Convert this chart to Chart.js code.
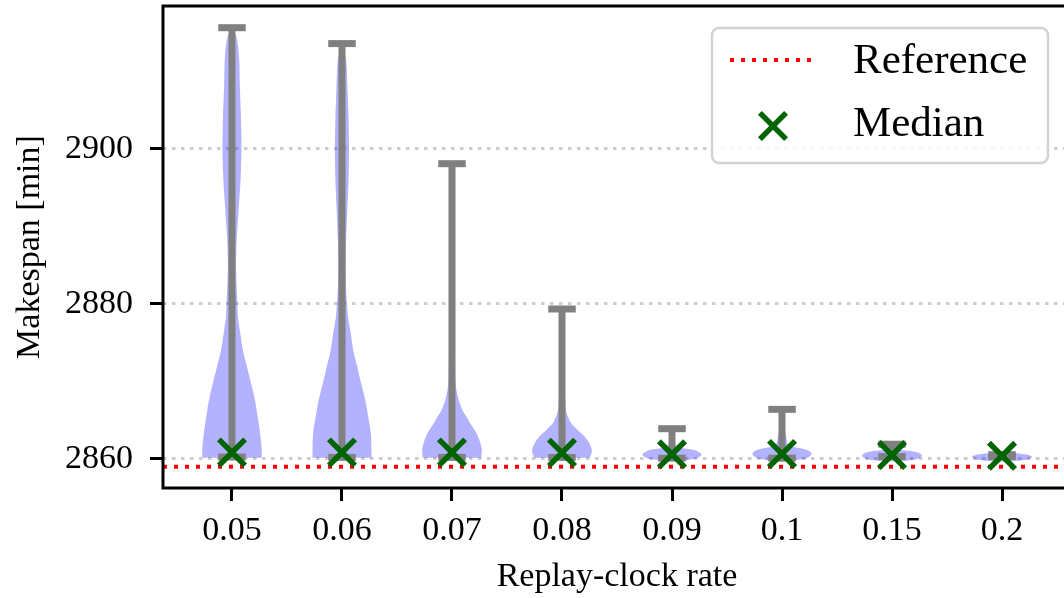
<!DOCTYPE html>
<html>
<head>
<meta charset="utf-8">
<script src="https://cdn.jsdelivr.net/npm/chart.js@4"></script>
<style>
html, body { margin: 0; padding: 0; background: #fff; overflow: hidden; }
#wrap { width: 1080px; height: 598px; }
</style>
</head>
<body>
<div id="wrap"><canvas id="chart"></canvas></div>
<script>
// data
const categories = ['0.05', '0.06', '0.07', '0.08', '0.09', '0.1', '0.15', '0.2'];
const medians = [2860.84, 2860.84, 2860.84, 2860.8, 2860.6, 2860.65, 2860.5, 2860.4];
const minima = [2860.25, 2860.2, 2860.2, 2860.2, 2860.1, 2860.1, 2860.3, 2860.3];
const maxima = [2915.65, 2913.6, 2898.1, 2879.35, 2863.9, 2866.4, 2861.9, 2860.55];
const referenceMakespan = 2859;
const yTicks = [2860, 2880, 2900];

// violin outlines: makespan levels and half widths (in category units)
const violinLevels = [
  [2860.15, 2861.2, 2863.4, 2865.4, 2867.6, 2869.8, 2871.9, 2874.0, 2876.3, 2878.3, 2880.5, 2882.7, 2885.0, 2888.0, 2892.0, 2896.0, 2900.0, 2904.0, 2908.0, 2912.0, 2914.5, 2915.65],
  [2860.15, 2861.2, 2863.4, 2865.4, 2867.6, 2869.8, 2871.9, 2874.0, 2876.3, 2878.3, 2880.5, 2882.7, 2885.0, 2888.0, 2892.0, 2896.0, 2900.0, 2904.0, 2908.0, 2911.0, 2912.8, 2913.6],
  [2860.15, 2861.2, 2862.0, 2863.3, 2864.6, 2865.5, 2866.3, 2867.6, 2868.9, 2870.0, 2875.0, 2880.0, 2885.0, 2890.0, 2895.0, 2898.1],
  [2860.15, 2860.6, 2861.2, 2862.0, 2862.9, 2863.7, 2864.6, 2865.5, 2866.3, 2868.0, 2872.0, 2876.0, 2879.35],
  [2859.8, 2860.0, 2860.3, 2860.6, 2860.9, 2861.2, 2861.45, 2862.0, 2863.0, 2863.9],
  [2859.8, 2860.0, 2860.35, 2860.7, 2861.05, 2861.35, 2861.6, 2862.0, 2862.8, 2864.0, 2866.4],
  [2859.7, 2859.9, 2860.2, 2860.5, 2860.8, 2861.05, 2861.25, 2861.9],
  [2859.65, 2859.85, 2860.1, 2860.3, 2860.55, 2860.75, 2860.9]
];
const violinHalfWidths = [
  [0.270, 0.270, 0.255, 0.234, 0.209, 0.173, 0.136, 0.100, 0.075, 0.055, 0.048, 0.041, 0.037, 0.042, 0.060, 0.078, 0.086, 0.082, 0.072, 0.064, 0.040, 0.000],
  [0.268, 0.268, 0.262, 0.239, 0.212, 0.173, 0.139, 0.103, 0.079, 0.056, 0.043, 0.036, 0.034, 0.037, 0.048, 0.060, 0.064, 0.060, 0.050, 0.041, 0.022, 0.000],
  [0.266, 0.271, 0.259, 0.223, 0.166, 0.129, 0.094, 0.062, 0.041, 0.032, 0.026, 0.024, 0.022, 0.020, 0.015, 0.000],
  [0.250, 0.266, 0.271, 0.250, 0.205, 0.144, 0.084, 0.053, 0.036, 0.028, 0.022, 0.015, 0.000],
  [0.060, 0.200, 0.255, 0.268, 0.243, 0.197, 0.080, 0.020, 0.010, 0.000],
  [0.060, 0.200, 0.255, 0.268, 0.243, 0.180, 0.080, 0.050, 0.040, 0.020, 0.000],
  [0.050, 0.200, 0.260, 0.272, 0.240, 0.150, 0.030, 0.000],
  [0.050, 0.200, 0.262, 0.272, 0.230, 0.130, 0.020]
];

const X_MIN = -0.627, X_MAX = 7.627;
const Y_MIN = 2856.25, Y_MAX = 2918.45;
const FONT = "'Liberation Serif', 'Times New Roman', serif";
const GRAY = '#808080';
const CAP = 0.125;

const datasets = [];
categories.forEach((c, i) => {
  const lv = violinLevels[i], hw = violinHalfWidths[i];
  const right = lv.map((v, k) => ({x: i + hw[k], y: v}));
  const left = lv.map((v, k) => ({x: i - hw[k], y: v})).reverse();
  datasets.push({
    data: right.concat(left), showLine: true, fill: 'shape',
    backgroundColor: 'rgba(0,0,255,0.3)', borderColor: 'rgba(0,0,0,0)', borderWidth: 0,
    pointRadius: 0, tension: 0.3, order: 4
  });
  datasets.push({
    data: [{x: i, y: minima[i]}, {x: i, y: maxima[i]}], showLine: true,
    borderColor: GRAY, borderWidth: 7, pointRadius: 0, order: 3
  });
  [minima[i], maxima[i]].forEach(v => datasets.push({
    data: [{x: i - CAP, y: v}, {x: i + CAP, y: v}], showLine: true,
    borderColor: GRAY, borderWidth: 7, pointRadius: 0, order: 3
  }));
});
datasets.push({
  label: 'Reference',
  data: [{x: X_MIN, y: referenceMakespan}, {x: X_MAX, y: referenceMakespan}],
  showLine: true, borderColor: '#ff0000', borderWidth: 4, borderDash: [4, 7],
  pointRadius: 0, order: 2
});
datasets.push({
  label: 'Median',
  data: medians.map((m, i) => ({x: i, y: m})),
  pointStyle: 'crossRot', pointRadius: 18.5, borderColor: '#006400', borderWidth: 5.5,
  backgroundColor: '#006400', order: 1
});

// top/right spines (whole frame)
const framePlugin = {
  id: 'frame',
  afterDatasetsDraw(chart) {
    const {ctx, chartArea: a} = chart;
    ctx.save();
    ctx.strokeStyle = '#000';
    ctx.lineWidth = 3;
    ctx.strokeRect(a.left, a.top, a.right - a.left, a.bottom - a.top);
    ctx.restore();
  }
};

// legend box in the upper right
const legendPlugin = {
  id: 'boxLegend',
  afterDraw(chart) {
    const {ctx} = chart;
    const ref = chart.data.datasets.find(d => d.label === 'Reference');
    const med = chart.data.datasets.find(d => d.label === 'Median');
    ctx.save();
    ctx.beginPath();
    ctx.roundRect(712, 28, 336, 135, 7);
    ctx.fillStyle = 'rgba(255,255,255,0.85)';
    ctx.fill();
    ctx.lineWidth = 2.5;
    ctx.strokeStyle = '#d3d3d3';
    ctx.stroke();

    ctx.beginPath();
    ctx.setLineDash(ref.borderDash);
    ctx.lineWidth = ref.borderWidth;
    ctx.strokeStyle = ref.borderColor;
    ctx.moveTo(730, 60);
    ctx.lineTo(817, 60);
    ctx.stroke();
    ctx.setLineDash([]);

    const d = med.pointRadius * Math.SQRT1_2;
    ctx.beginPath();
    ctx.lineWidth = med.borderWidth;
    ctx.strokeStyle = med.borderColor;
    ctx.moveTo(773 - d, 126 - d); ctx.lineTo(773 + d, 126 + d);
    ctx.moveTo(773 + d, 126 - d); ctx.lineTo(773 - d, 126 + d);
    ctx.stroke();

    ctx.fillStyle = '#000';
    ctx.font = '43px ' + FONT;
    ctx.textBaseline = 'middle';
    ctx.fillText(ref.label, 853, 62);
    ctx.fillText(med.label, 853, 125);
    ctx.restore();
  }
};

new Chart(document.getElementById('chart'), {
  type: 'scatter',
  data: { datasets },
  plugins: [framePlugin, legendPlugin],
  options: {
    responsive: true,
    maintainAspectRatio: false,
    animation: false,
    devicePixelRatio: 1,
    layout: { autoPadding: false, padding: { left: 0, right: 9, top: 6, bottom: 0 } },
    plugins: { legend: { display: false }, tooltip: { enabled: false } },
    scales: {
      x: {
        type: 'linear', min: X_MIN, max: X_MAX,
        afterBuildTicks: s => { s.ticks = categories.map((_, i) => ({value: i})); },
        afterFit: s => { s.height = 110; s.paddingLeft = 0; s.paddingRight = 0; },
        grid: { drawOnChartArea: false, drawTicks: true, tickLength: 13, tickWidth: 3, tickColor: '#000' },
        border: { display: false },
        ticks: {
          autoSkip: false, maxRotation: 0, padding: 10, color: '#000',
          font: { family: FONT, size: 34 },
          callback: v => categories[v]
        },
        title: {
          display: true, text: 'Replay-clock rate', color: '#000',
          font: { family: FONT, size: 34 }, padding: { top: 0, bottom: 1 }
        }
      },
      y: {
        type: 'linear', min: Y_MIN, max: Y_MAX,
        afterBuildTicks: s => { s.ticks = yTicks.map(v => ({value: v})); },
        afterFit: s => { s.width = 163; s.paddingTop = 0; s.paddingBottom = 0; },
        grid: {
          color: '#cccccc', lineWidth: 3,
          drawTicks: true, tickLength: 13, tickWidth: 3, tickColor: '#000', tickBorderDash: []
        },
        border: { display: false, dash: [3.5, 5.5] },
        ticks: {
          padding: 17, color: '#000', font: { family: FONT, size: 34 },
          callback: v => String(v)
        },
        title: {
          display: true, text: 'Makespan [min]', color: '#000',
          font: { family: FONT, size: 34 }, padding: { top: 10, bottom: 0 }
        }
      }
    }
  }
});
</script>
</body>
</html>
